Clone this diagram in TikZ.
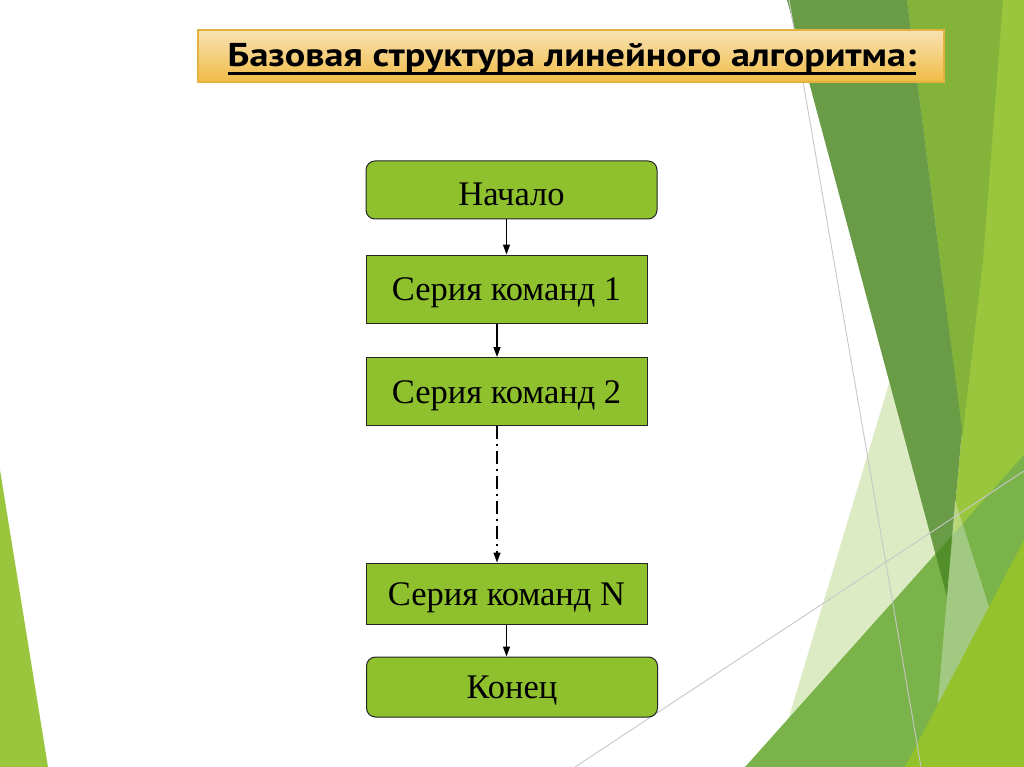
\documentclass[tikz,border=0pt]{standalone}
\usepackage{fontspec}
\setmainfont{Liberation Serif}
\newfontfamily\headfont{PT Sans}
\usetikzlibrary{arrows.meta}
\definecolor{blockgreen}{RGB}{142,193,45}
\definecolor{darkleaf}{RGB}{106,156,72}
\definecolor{midleaf}{RGB}{131,179,57}
\definecolor{brightleaf}{RGB}{154,198,62}
\definecolor{paleleaf}{RGB}{221,235,196}
\definecolor{lowleaf}{RGB}{123,179,75}
\definecolor{deepleaf}{RGB}{82,142,42}
\definecolor{limeleaf}{RGB}{147,194,44}
\definecolor{goldedge}{RGB}{228,178,62}
\newcommand{\lowered}[1]{\raisebox{-4pt}[\height][\depth]{#1}}
\begin{document}
\begin{tikzpicture}[x=1pt,y=-1pt,
  block/.style={draw=black!85,line width=1pt,fill=blockgreen,inner sep=0pt,
    minimum width=281pt,minimum height=68pt,font=\fontsize{34.5}{38}\selectfont},
  term/.style={block,rounded corners=9pt,minimum width=291pt,minimum height=58pt},
  flow/.style={line width=1.4pt,-{Triangle[length=10pt,width=7pt]}}]
  \useasboundingbox[fill=white] (0,0) rectangle (1024,767);
  % facets on the right
  \fill[brightleaf] (907,0) -- (1024,0) -- (1024,767) -- (905,767) -- (947,597)
    -- (962,430) -- (940,260) -- cycle;
  \fill[midleaf] (907,0) -- (1003,0) -- (983,260) -- (962,440) -- (940,260) -- cycle;
  \fill[paleleaf] (774,767) -- (935,230) -- (950,767) -- cycle;
  \fill[paleleaf] (858,265) -- (945,590) -- (890,377) -- cycle;
  \fill[darkleaf] (787,0) -- (907,0) -- (940,260) -- (962,430) -- (947,597) -- cycle;
  \fill[lowleaf] (745,767) -- (1024,455) -- (1024,767) -- cycle;
  \begin{scope}
    \clip (745,767) -- (1024,455) -- (1024,767) -- cycle;
    \fill[deepleaf] (787,0) -- (907,0) -- (940,260) -- (962,430) -- (947,597) -- cycle;
  \end{scope}
  \fill[white,opacity=.3] (947,597) -- (955,500) -- (990,610) -- (937,713) -- cycle;
  \fill[limeleaf] (1024,540) -- (1024,767) -- (905,767) -- cycle;
  \draw[black!22,line width=.9pt] (789,0) -- (921,767);
  \draw[black!22,line width=.9pt] (575,767) -- (1024,471);
  % facet on the left
  \fill[brightleaf] (0,470) -- (0,767) -- (48,767) -- cycle;
  % title
  \node[draw=goldedge,line width=1.2pt,top color={rgb,255:red,248;green,226;blue,180},
    bottom color={rgb,255:red,240;green,188;blue,70},minimum width=746pt,
    minimum height=52pt,inner sep=0pt] (head) at (571,56) {};
  \node[inner sep=0pt,anchor=base,font=\headfont\bfseries\fontsize{33}{36}\selectfont]
    (headtext) at (572,67) {\scalebox{1.157}[1]{Базовая структура линейного алгоритма:}};
  \draw[line width=2.8pt] ([yshift=-6.5pt]headtext.base west) -- ([yshift=-6.5pt]headtext.base east);
  % flowchart
  \node[term] (start) at (511.5,190) {\lowered{Начало}};
  \node[block] (s1) at (506.5,289) {\lowered{Серия команд 1}};
  \node[block] (s2) at (506.5,391.5) {\lowered{Серия команд 2}};
  \node[block,minimum height=61pt] (sn) at (506.5,593.5) {\lowered{Серия команд N}};
  \node[term,minimum height=60pt] (fin) at (512,687) {\lowered{Конец}};
  \draw[flow] (start.south -| s1.north) -- (s1.north);
  \draw[flow] ([xshift=-9.5pt]s1.south) -- ([xshift=-9.5pt]s2.north);
  \draw[flow,dash pattern=on 13pt off 5pt on 2pt off 5pt]
    ([xshift=-9.5pt]s2.south) -- ([xshift=-9.5pt]sn.north);
  \draw[flow] (sn.south) -- (sn.south |- fin.north);
\end{tikzpicture}
\end{document}
